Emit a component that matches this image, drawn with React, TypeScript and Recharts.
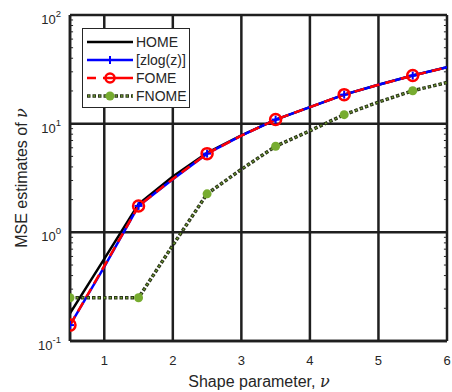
import React from 'react';
import {
  LineChart,
  Line,
  XAxis,
  YAxis,
  CartesianGrid,
  ReferenceLine,
  Label,
} from 'recharts';

// shape parameter values (markers only on the half-integer ones)
const SHAPE = [0.5, 1, 1.5, 2, 2.5, 3, 3.5, 4, 4.5, 5, 5.5, 6];
const HOME = [0.18, 0.57, 1.82, 3.27, 5.4, 7.8, 10.9, 14.2, 18.5, 22.8, 27.7, 33];
const ZLOG = [0.14, 0.48, 1.75, 3.08, 5.3, 7.75, 10.9, 14.2, 18.5, 22.8, 27.7, 33];
const FOME = [0.14, 0.49, 1.75, 3.1, 5.3, 7.75, 10.9, 14.2, 18.5, 22.8, 27.7, 33];
const FNOME = [0.25, 0.25, 0.25, 0.76, 2.26, 3.8, 6.2, 8.6, 12.1, 15.8, 20.1, 23.9];

const X_TICKS = [1, 2, 3, 4, 5, 6];
const Y_TICKS = [0.1, 1, 10, 100];
const Y_TICK_EXP = ['-1', '0', '1', '2'];
const MINOR = [0.1, 1, 10].flatMap((d) => [2, 3, 4, 5, 6, 7, 8, 9].map((k) => +(k * d).toFixed(3)));

const data = SHAPE.map((x, i) => ({
  x,
  home: HOME[i],
  zlog: ZLOG[i],
  fome: FOME[i],
  fnome: FNOME[i],
}));

const FONT = '"Liberation Sans", Arial, Helvetica, sans-serif';
const AXIS = '#262626';
const GREEN = '#77ac30';
const DARK_DOT = '#2b3519';

const hidden = (p: any) => <g key={`h-${p.index}`} />;

const plusDot = (p: any) =>
  p.index % 2 === 0 ? (
    <g key={`z-${p.index}`}>
      <line x1={p.cx - 4} x2={p.cx + 4} y1={p.cy} y2={p.cy} stroke="#0000ff" strokeWidth={2} />
      <line x1={p.cx} x2={p.cx} y1={p.cy - 4} y2={p.cy + 4} stroke="#0000ff" strokeWidth={2} />
    </g>
  ) : hidden(p);

const ringDot = (p: any) =>
  p.index % 2 === 0 ? (
    <circle key={`f-${p.index}`} cx={p.cx} cy={p.cy} r={5.5} fill="none" stroke="#ff0000" strokeWidth={2.5} />
  ) : hidden(p);

const greenDot = (p: any) =>
  p.index % 2 === 0 ? (
    <circle key={`n-${p.index}`} cx={p.cx} cy={p.cy} r={4.5} fill={GREEN} stroke="none" />
  ) : hidden(p);

const XTick = ({ x, y, payload }: any) => (
  <text x={x} y={y + 24} textAnchor="middle" fontSize={13} fill={AXIS} fontFamily={FONT}>
    {payload.value}
  </text>
);

const YTick = ({ x, y, payload }: any) => {
  const idx = Y_TICKS.indexOf(payload.value);
  return (
    <text x={x - 9} y={y + 9} textAnchor="end" fontSize={13} fill={AXIS} fontFamily={FONT}>
      <tspan>10</tspan>
      <tspan dy={-7} fontSize={9.5}>{Y_TICK_EXP[idx]}</tspan>
    </text>
  );
};

const LEGEND = [
  { name: 'HOME', kind: 'home' },
  { name: '[zlog(z)]', kind: 'zlog' },
  { name: 'FOME', kind: 'fome' },
  { name: 'FNOME', kind: 'fnome' },
];

function LegendSample({ kind }: { kind: string }) {
  return (
    <svg width={46} height={12} style={{ display: 'block' }}>
      {kind === 'home' && <line x1={0} x2={46} y1={6} y2={6} stroke="#000" strokeWidth={2.5} />}
      {kind === 'zlog' && (
        <g>
          <line x1={0} x2={46} y1={6} y2={6} stroke="#0000ff" strokeWidth={2.5} />
          <line x1={19} x2={27} y1={6} y2={6} stroke="#0000ff" strokeWidth={2} />
          <line x1={23} x2={23} y1={2} y2={10} stroke="#0000ff" strokeWidth={2} />
        </g>
      )}
      {kind === 'fome' && (
        <g>
          <line x1={0} x2={46} y1={6} y2={6} stroke="#ff0000" strokeWidth={2.5} strokeDasharray="9 7 30" />
          <circle cx={23} cy={6} r={4.5} fill="none" stroke="#ff0000" strokeWidth={2.5} />
        </g>
      )}
      {kind === 'fnome' && (
        <g>
          <line x1={0} x2={46} y1={6} y2={6} stroke={DARK_DOT} strokeWidth={3.5} strokeDasharray="3.5 2" />
          <line x1={0} x2={46} y1={6} y2={6} stroke={GREEN} strokeWidth={1.4} strokeDasharray="1.5 4" strokeDashoffset={-1} />
          <circle cx={23} cy={6} r={4.5} fill={GREEN} />
        </g>
      )}
    </svg>
  );
}

export default function App() {
  return (
    <div style={{ position: 'absolute', left: 0, top: 0, width: 452, height: 392, background: '#fff' }}>
      <LineChart
        width={452}
        height={392}
        data={data}
        margin={{ top: 15, right: 5, bottom: 21, left: 0 }}
      >
        <CartesianGrid stroke="#1f1f1f" strokeWidth={2.5} />
        <XAxis
          dataKey="x"
          type="number"
          domain={[0.5, 6]}
          ticks={X_TICKS}
          height={30}
          tick={<XTick />}
          tickLine={false}
          tickSize={0}
          tickMargin={0}
          axisLine={{ stroke: '#1f1f1f', strokeWidth: 2.5 }}
          allowDataOverflow
        >
          <Label
            content={() => (
              <text x={259} y={387} textAnchor="middle" fontSize={16} fill={AXIS} fontFamily={FONT}>
                Shape parameter,{' '}
                <tspan fontStyle="italic" fontFamily='"DejaVu Serif", "Liberation Serif", serif'>
                  ν
                </tspan>
              </text>
            )}
          />
        </XAxis>
        <YAxis
          type="number"
          scale="log"
          domain={[0.1, 100]}
          ticks={Y_TICKS}
          width={70}
          tick={<YTick />}
          tickLine={false}
          tickSize={0}
          tickMargin={0}
          axisLine={{ stroke: '#1f1f1f', strokeWidth: 2.5 }}
          allowDataOverflow
        >
          <Label
            content={() => (
              <text
                transform="translate(27,178) rotate(-90)"
                textAnchor="middle"
                fontSize={16}
                fill={AXIS}
                fontFamily={FONT}
              >
                MSE estimates of{' '}
                <tspan fontStyle="italic" fontFamily='"DejaVu Serif", "Liberation Serif", serif'>
                  ν
                </tspan>
              </text>
            )}
          />
        </YAxis>
        {MINOR.map((v) => (
          <ReferenceLine
            key={`ml-${v}`}
            segment={[{ x: 0.5, y: v }, { x: 0.545, y: v }]}
            stroke={AXIS}
            strokeWidth={1}
          />
        ))}
        {MINOR.map((v) => (
          <ReferenceLine
            key={`mr-${v}`}
            segment={[{ x: 5.955, y: v }, { x: 6, y: v }]}
            stroke={AXIS}
            strokeWidth={1}
          />
        ))}
        <Line
          type="linear"
          dataKey="home"
          stroke="#000"
          strokeWidth={2.5}
          dot={false}
          activeDot={false}
          isAnimationActive={false}
        />
        <Line
          type="linear"
          dataKey="zlog"
          stroke="#0000ff"
          strokeWidth={2.5}
          dot={plusDot}
          activeDot={false}
          isAnimationActive={false}
        />
        <Line
          type="linear"
          dataKey="fome"
          stroke="#ff0000"
          strokeWidth={2.5}
          strokeDasharray="10 6"
          dot={ringDot}
          activeDot={false}
          isAnimationActive={false}
        />
        <Line
          type="linear"
          dataKey="fnome"
          stroke={DARK_DOT}
          strokeWidth={3.5}
          strokeDasharray="3.5 2"
          dot={false}
          activeDot={false}
          isAnimationActive={false}
        />
        <Line
          type="linear"
          dataKey="fnome"
          stroke={GREEN}
          strokeWidth={1.4}
          strokeDasharray="1.5 4"
          strokeDashoffset={-1}
          dot={greenDot}
          activeDot={false}
          isAnimationActive={false}
        />
      </LineChart>
      <div
        style={{
          position: 'absolute',
          left: 82,
          top: 28,
          width: 106,
          height: 74,
          border: `1px solid ${AXIS}`,
          background: '#fff',
          paddingTop: 4,
          boxSizing: 'content-box',
          fontFamily: FONT,
          fontSize: 14,
          color: AXIS,
        }}
      >
        {LEGEND.map((e) => (
          <div key={e.name} style={{ display: 'flex', alignItems: 'center', height: 18, lineHeight: '18px' }}>
            <div style={{ marginLeft: 4, width: 46 }}>
              <LegendSample kind={e.kind} />
            </div>
            <span style={{ marginLeft: 3 }}>{e.name}</span>
          </div>
        ))}
      </div>
    </div>
  );
}
